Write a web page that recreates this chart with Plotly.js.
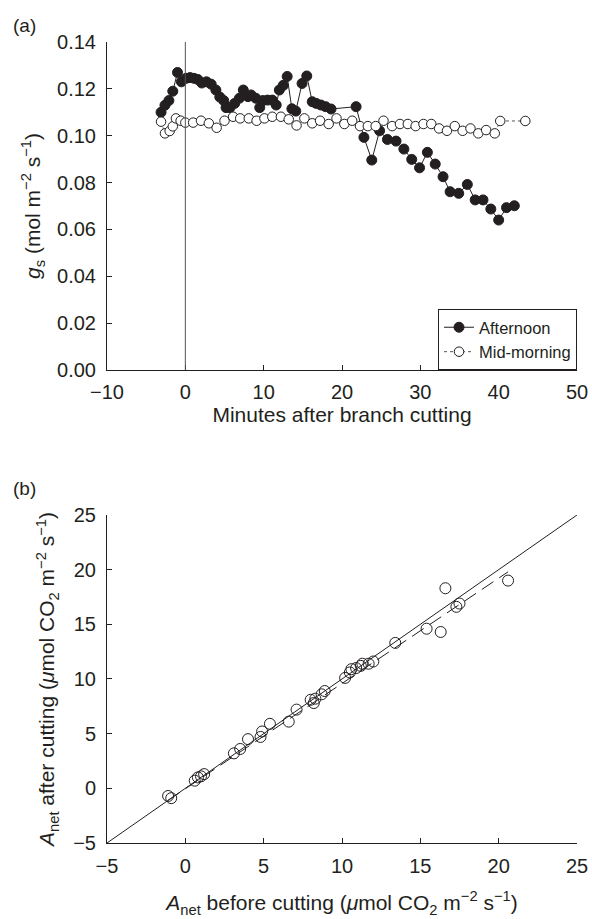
<!DOCTYPE html>
<html>
<head>
<meta charset="utf-8">
<script src="https://cdn.plot.ly/plotly-3.0.1.min.js"></script>
<style>html,body{margin:0;padding:0;background:#fff;}#chart{width:592px;height:919px;}</style>
</head>
<body>
<div id="chart"></div>
<script>
// Panel (a): stomatal conductance vs minutes after branch cutting
const afternoonMin = [-3.1,-2.6,-2.1,-1.6,-1.0,-0.5,0.1,0.6,1.1,1.6,2.1,2.7,3.3,3.9,4.4,4.9,5.2,5.7,6.3,6.9,7.4,8.0,8.4,9.0,9.5,9.9,10.5,11.1,11.6,12.0,12.5,13.0,13.6,14.1,14.9,15.5,16.2,16.7,17.3,17.9,18.6,21.8,22.8,23.8,24.8,25.8,26.9,27.9,28.9,29.9,30.9,31.9,32.9,33.8,34.9,36.0,37.0,38.0,39.0,40.0,41.0,42.0];
const afternoonGs = [0.110,0.113,0.115,0.119,0.127,0.123,0.1245,0.1248,0.1245,0.1240,0.1225,0.1230,0.1220,0.1195,0.1165,0.1150,0.1120,0.1120,0.1138,0.1160,0.1195,0.1167,0.1174,0.1160,0.1120,0.1150,0.1152,0.1152,0.1131,0.1195,0.1215,0.1253,0.1115,0.1105,0.1223,0.1255,0.1145,0.1138,0.1131,0.1124,0.1114,0.1124,0.0993,0.0896,0.1021,0.0984,0.0977,0.0943,0.0899,0.0863,0.0929,0.0879,0.0825,0.0761,0.0754,0.0792,0.0726,0.0726,0.0687,0.0640,0.0693,0.0701];
const morningMin = [-3.1,-2.6,-2.0,-1.6,-1.2,-0.6,0.0,1.0,2.0,3.0,4.0,5.0,6.1,7.0,8.1,9.1,10.1,11.1,12.2,13.2,14.2,15.2,16.2,17.2,18.3,19.3,20.3,21.3,22.3,23.3,24.3,25.3,26.4,27.4,28.4,29.4,30.4,31.4,32.4,33.4,34.4,35.4,36.4,37.4,38.4,39.5,40.2,43.4];
const morningGs = [0.106,0.101,0.102,0.104,0.1074,0.1064,0.1056,0.1056,0.1064,0.1053,0.1034,0.1064,0.1081,0.1074,0.1074,0.1064,0.1074,0.1081,0.1081,0.1070,0.1044,0.1074,0.1053,0.1064,0.1050,0.1074,0.1050,0.1064,0.1041,0.1041,0.1041,0.1064,0.1041,0.1050,0.1050,0.1041,0.1050,0.1050,0.1031,0.1021,0.1041,0.1021,0.1031,0.1010,0.1024,0.1010,0.1063,0.1063];
const cutTime = 0;

// Panel (b): Anet before vs after cutting
const anetBefore = [-1.1,-0.9,0.6,0.8,1.0,1.2,3.1,3.5,4.0,4.8,4.9,5.4,6.6,7.1,8.0,8.2,8.3,8.7,8.9,10.2,10.5,10.6,10.9,11.2,11.3,11.7,12.0,13.4,15.4,16.3,16.6,17.3,17.5,20.6];
const anetAfter  = [-0.7,-0.9,0.7,1.0,1.1,1.3,3.2,3.6,4.5,4.7,5.2,5.9,6.1,7.2,8.1,7.8,8.2,8.6,8.9,10.1,10.6,10.9,11.0,11.2,11.4,11.4,11.6,13.3,14.6,14.3,18.3,16.6,16.9,19.0];
const oneToOne = [-5, 25];
const fitX = [-1.1, 20.6];
const fitY = [-1.1, 19.8];

const ink = '#231f20';
const FONT = '"Liberation Sans", Arial, sans-serif';
const TICK = 20, TITLE = 21;

const traces = [
  {x: afternoonMin, y: afternoonGs, xaxis:'x', yaxis:'y', name:'Afternoon', mode:'lines+markers',
   line:{color:ink, width:1}, marker:{symbol:'circle', size:10, color:ink, line:{color:ink, width:1}}},
  {x: morningMin, y: morningGs, xaxis:'x', yaxis:'y', name:'Mid-morning', mode:'lines+markers',
   line:{color:'#555', width:1, dash:'dot'}, marker:{symbol:'circle', size:9.5, color:'#fff', line:{color:ink, width:1}}},
  {x: oneToOne, y: oneToOne, xaxis:'x2', yaxis:'y2', mode:'lines', showlegend:false,
   line:{color:ink, width:1}},
  {x: fitX, y: fitY, xaxis:'x2', yaxis:'y2', mode:'lines', showlegend:false,
   line:{color:ink, width:1, dash:'14px,7px'}},
  {x: anetBefore, y: anetAfter, xaxis:'x2', yaxis:'y2', mode:'markers', showlegend:false,
   marker:{symbol:'circle-open', size:11, color:ink, line:{color:ink, width:1}}}
];

const axisCommon = {
  showline:true, linecolor:ink, linewidth:1, mirror:false,
  ticks:'inside', ticklen:5, tickwidth:1, tickcolor:ink,
  showgrid:false, zeroline:false,
  tickfont:{family:FONT, size:TICK, color:ink}
};

const layout = {
  width:592, height:919,
  margin:{l:107, r:15, t:42, b:76},
  paper_bgcolor:'#fff', plot_bgcolor:'#fff',
  font:{family:FONT, color:ink},
  showlegend:true,
  legend:{x:1, xanchor:'right', y:0.5905, yanchor:'bottom', bgcolor:'#fff',
          bordercolor:ink, borderwidth:1, font:{family:FONT, size:16.5, color:ink},
          tracegroupgap:0, itemwidth:30},
  xaxis: Object.assign({}, axisCommon, {domain:[0,1], anchor:'y', range:[-10,50], tickvals:[-10,0,10,20,30,40,50],
          ticklabelstandoff:4,
          title:{text:'Minutes after branch cutting', font:{family:FONT, size:TITLE, color:ink}, standoff:0}}),
  yaxis: Object.assign({}, axisCommon, {domain:[0.5905,1], anchor:'x', range:[0,0.14], tickvals:[0,0.02,0.04,0.06,0.08,0.10,0.12,0.14],
          tickformat:'.2f', ticklabelstandoff:6,
          title:{text:'<i>g</i><sub>s</sub> (mol m<sup>−2</sup> s<sup>−1</sup>)', font:{family:FONT, size:TITLE, color:ink}, standoff:10}}),
  xaxis2: Object.assign({}, axisCommon, {domain:[0,1], anchor:'y2', range:[-5,25], tickvals:[-5,0,5,10,15,20,25],
          ticklabelstandoff:5,
          title:{text:'<i>A</i><sub>net</sub> before cutting (<i>μ</i>mol CO<sub>2</sub> m<sup>−2</sup> s<sup>−1</sup>)', font:{family:FONT, size:TITLE, color:ink}, standoff:19}}),
  yaxis2: Object.assign({}, axisCommon, {domain:[0,0.4095], anchor:'x2', range:[-5,25], tickvals:[-5,0,5,10,15,20,25],
          ticklabelstandoff:6,
          title:{text:'<i>A</i><sub>net</sub> after cutting (<i>μ</i>mol CO<sub>2</sub> m<sup>−2</sup> s<sup>−1</sup>)', font:{family:FONT, size:TITLE, color:ink}, standoff:12}}),
  shapes:[
    {type:'line', xref:'x', yref:'y', x0:cutTime, x1:cutTime, y0:0, y1:0.14, line:{color:'#555', width:1}}
  ],
  annotations:[
    {text:'(a)', xref:'paper', yref:'paper', x:-0.204, y:1.021, xanchor:'left', yanchor:'middle', showarrow:false, font:{family:FONT, size:19, color:ink}},
    {text:'(b)', xref:'paper', yref:'paper', x:-0.204, y:0.442, xanchor:'left', yanchor:'middle', showarrow:false, font:{family:FONT, size:19, color:ink}}
  ]
};

Plotly.newPlot('chart', traces, layout, {staticPlot:true, displayModeBar:false});
</script>
</body>
</html>
